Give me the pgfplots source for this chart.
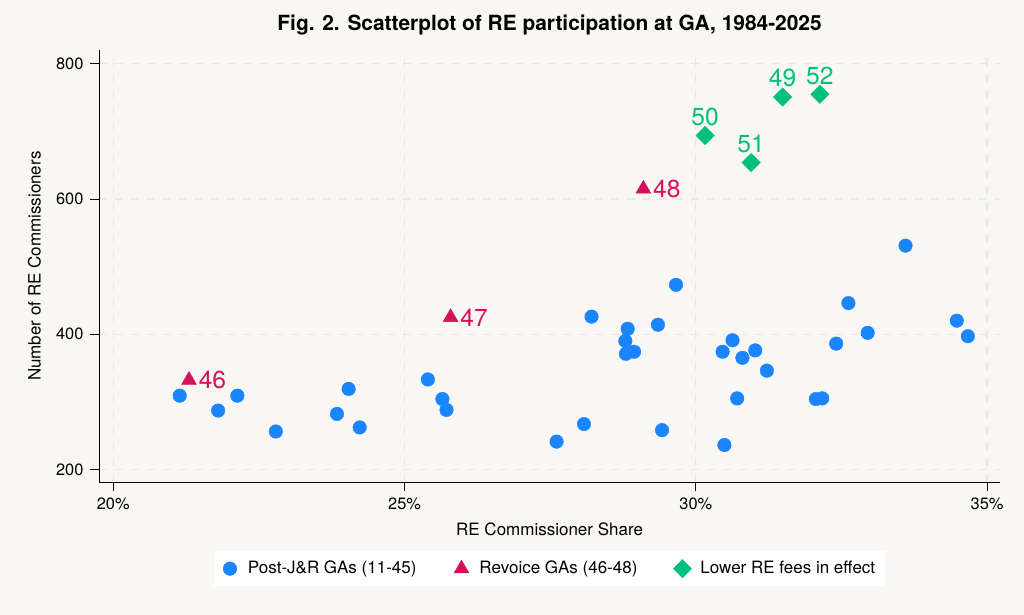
\documentclass[border=0pt]{standalone}
\usepackage{pgfplots}
\pgfplotsset{compat=1.18}
\usepackage{fontspec}
\setmainfont{TeX Gyre Heros}
\definecolor{bg}{RGB}{248,247,244}
\definecolor{stcblue}{RGB}{26,133,255}
\definecolor{stcred}{RGB}{213,17,89}
\definecolor{stcgreen}{RGB}{0,191,127}
\definecolor{gridc}{RGB}{232,232,232}
\pgfplotstableread{
x y
21.14 309
21.80 287
22.13 309
22.79 256
23.84 282
24.04 319
24.23 262
25.40 333
25.65 304
25.72 288
27.61 241
28.08 267
28.21 426
28.79 390
28.80 371
28.83 408
28.94 374
29.35 414
29.42 258
29.66 473
30.46 374
30.49 236
30.63 391
30.71 305
30.80 365
31.02 376
31.22 346
32.06 304
32.17 305
32.41 386
32.62 446
32.95 402
33.60 531
34.48 420
34.67 397
}\postjr
\pgfplotstableread{
x y label
21.30 332 46
25.79 425 47
29.10 615 48
}\revoice
\pgfplotstableread{
x y label
31.49 751 49
30.16 694 50
30.95 654 51
32.13 755 52
}\lowfee
\begin{document}
\begin{tikzpicture}
\fill[bg] (0,0) rectangle (512pt,307.5pt);
\useasboundingbox (0,0) rectangle (512pt,307.5pt);
\begin{axis}[
  at={(49.65pt,66.35pt)}, anchor=south west,
  scale only axis, width=450.3pt, height=216.2pt,
  xmin=19.76, xmax=35.22, ymin=180.8, ymax=820.7,
  axis x line*=bottom, axis y line*=left,
  axis line style={-, line width=0.6pt},
  xtick={20,25,30,35}, xticklabels={20\%,25\%,30\%,35\%},
  ytick={200,400,600,800},
  tick align=outside, major tick length=4.4pt,
  tick style={black, line width=0.5pt},
  grid=major,
  major grid style={gridc, dash pattern=on 4pt off 4pt, line width=0.6pt},
  ticklabel style={font=\fontsize{8.2}{9}\selectfont},
  /pgf/number format/assume math mode=true,
  title={Fig. 2. Scatterplot of RE participation at GA, 1984-2025},
  title style={font=\bfseries\fontsize{10.45}{13}\selectfont, at={(axis description cs:0.5,1.0169)}, anchor=base},
  xlabel={RE Commissioner Share},
  xlabel style={font=\fontsize{8.5}{10}\selectfont, at={(axis description cs:0.5,-0.1219)}, anchor=base},
  ylabel={Number of RE Commissioners},
  ylabel style={font=\fontsize{8.5}{10}\selectfont, at={(axis description cs:-0.0651,0.5)}, anchor=base},
  legend columns=3,
  legend cell align=left,
  legend image code/.code={\path[draw=none,fill=none] (0pt,0pt) -- (12pt,0pt); \draw[#1] plot coordinates {(5pt,0pt)};},
  legend style={at={(0.5,-0.1998)}, anchor=center, draw=none, fill=white,
    font=\fontsize{8.5}{10}\selectfont, inner xsep=2.85pt, inner ysep=3pt,
    nodes={inner sep=2pt, text height=6.3pt, text depth=1.5pt},
    /tikz/every even column/.append style={column sep=15.5pt}},
]
\addplot[only marks, color=stcblue, mark=*, mark size=3.4pt, mark options={fill=stcblue, line width=0.2pt}] table[x=x,y=y] {\postjr};
\addlegendentry{Post-J\&R GAs (11-45)}
\addplot[only marks, color=stcred, mark=triangle*, mark size=4.3pt, mark options={fill=stcred, line width=0.2pt},
  nodes near coords, point meta=explicit symbolic,
  every node near coord/.append style={anchor=west, inner sep=0pt, xshift=4.8pt, font=\fontsize{12.3}{13}\selectfont, text=stcred}]
  table[x=x,y=y,meta=label] {\revoice};
\addlegendentry{Revoice GAs (46-48)}
\addplot[only marks, color=stcgreen, mark=square*, mark size=3.25pt, mark options={rotate=45, fill=stcgreen, line width=0.2pt},
  nodes near coords, point meta=explicit symbolic,
  every node near coord/.append style={anchor=base, inner sep=0pt, yshift=5pt, font=\fontsize{12.3}{13}\selectfont, text=stcgreen}]
  table[x=x,y=y,meta=label] {\lowfee};
\addlegendentry{Lower RE fees in effect\hspace{4.3pt}}
\end{axis}
\end{tikzpicture}
\end{document}
